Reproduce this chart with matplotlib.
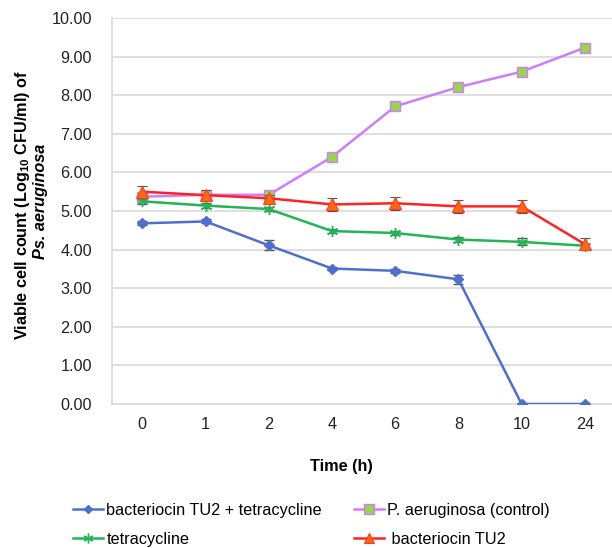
import matplotlib
matplotlib.use("Agg")
import matplotlib.pyplot as plt
from matplotlib.lines import Line2D
import numpy as np

plt.rcParams['font.family'] = ['Liberation Sans', 'DejaVu Sans']
plt.rcParams['mathtext.fontset'] = 'custom'
plt.rcParams['mathtext.rm'] = 'Liberation Sans:bold'
plt.rcParams['mathtext.it'] = 'Liberation Sans:italic:bold'
plt.rcParams['mathtext.bf'] = 'Liberation Sans:bold'

time_labels = ["0", "1", "2", "4", "6", "8", "10", "24"]

combo = [4.68, 4.73, 4.11, 3.51, 3.45, 3.23, 0.0, 0.0]
combo_err = [0.05, 0.05, 0.13, 0.05, 0.05, 0.12, 0.0, 0.0]

control = [5.37, 5.42, 5.42, 6.40, 7.71, 8.21, 8.61, 9.23]
control_err = [0.08, 0.10, 0.05, 0.05, 0.05, 0.05, 0.05, 0.05]

tetra = [5.25, 5.14, 5.05, 4.48, 4.43, 4.26, 4.20, 4.10]
tetra_err = [0.06, 0.06, 0.06, 0.06, 0.06, 0.06, 0.09, 0.05]

bact = [5.50, 5.41, 5.33, 5.17, 5.20, 5.12, 5.12, 4.14]
bact_err = [0.16, 0.13, 0.08, 0.16, 0.17, 0.16, 0.16, 0.16]

W, H = 612, 548
fig = plt.figure(figsize=(W/100, H/100), dpi=100)
ax = fig.add_axes([112/W, (H-404)/H, (612-112)/W, (404-18)/H])

x = np.arange(len(time_labels))
ekw = dict(ecolor='#555555', elinewidth=1.0, capsize=3.5, capthick=1.0)

styles = {
    'combo': dict(color='#4F6FD0', marker='D', ms=5, mfc='#4F6FD0', mec='#4F6FD0', mew=1.0),
    'control': dict(color='#CC7EFF', marker='s', ms=7.5, mfc='#99D44A', mec='#CC7EFF', mew=1.0),
    'tetra': dict(color='#22B457', marker=(6, 2, 0), ms=8, mfc='#22B457', mec='#22B457', mew=1.0),
    'bact': dict(color='#FF2222', marker='^', ms=8.5, mfc='#FF6A10', mec='#FF3A20', mew=0.8),
}

ax.errorbar(x, combo, yerr=combo_err, lw=1.8, zorder=3, **styles['combo'], **ekw)
ax.errorbar(x, control, yerr=control_err, lw=1.8, zorder=4, **styles['control'], **ekw)
ax.errorbar(x, tetra, yerr=tetra_err, lw=1.8, zorder=5, **styles['tetra'], **ekw)
ax.errorbar(x, bact, yerr=bact_err, lw=1.8, zorder=6, **styles['bact'], **ekw)

ax.set_xlim(-0.48, 7.43)
ax.set_ylim(0, 10)
yt = np.arange(0, 10.01, 1.0)
ax.set_yticks(yt)
ax.set_yticklabels([f"{v:.2f}" for v in yt])
ax.set_xticks(x)
ax.set_xticklabels(time_labels)
ax.tick_params(axis='both', length=0, labelsize=11.7, colors='#222222')
ax.tick_params(axis='x', pad=9.5)
ax.tick_params(axis='y', pad=14.4)
ax.grid(axis='y', color='#D9D9D9', lw=1.2)
ax.set_axisbelow(True)
for s in ['top', 'right']:
    ax.spines[s].set_visible(False)
for s in ['left', 'bottom']:
    ax.spines[s].set_color('#D9D9D9')
    ax.spines[s].set_linewidth(1.2)

fig.text(341/W, 1-467/H, 'Time (h)', fontsize=11.7, fontweight='bold', ha='center', va='center')
fig.text(23/W, 1-205/H, 'Viable cell count (Log$_{10}$ CFU/ml) of', fontsize=11.7,
         fontweight='bold', rotation=90, ha='center', va='center')
fig.text(40/W, 1-201/H, 'Ps. aeruginosa', fontsize=11.7, fontweight='bold', style='italic',
         rotation=90, ha='center', va='center')

handles = [
    Line2D([], [], lw=1.8, **{**styles['combo'], 'ms': 4}),
    Line2D([], [], lw=1.8, **{**styles['tetra'], 'ms': 7}),
    Line2D([], [], lw=1.8, **{**styles['control'], 'ms': 6.5}),
    Line2D([], [], lw=1.8, **{**styles['bact'], 'ms': 7}),
]
labels = ['bacteriocin TU2 + tetracycline', 'tetracycline',
          'P. aeruginosa (control)', ' bacteriocin TU2']
fig.legend(handles, labels, loc='center left', bbox_to_anchor=(73/W, 1-525/H), ncol=2,
           frameon=False, fontsize=11.7, handlelength=1.85, handletextpad=0.2,
           columnspacing=1.95, labelspacing=0.85, borderpad=0, borderaxespad=0)

fig.savefig('out.png', dpi=100)
